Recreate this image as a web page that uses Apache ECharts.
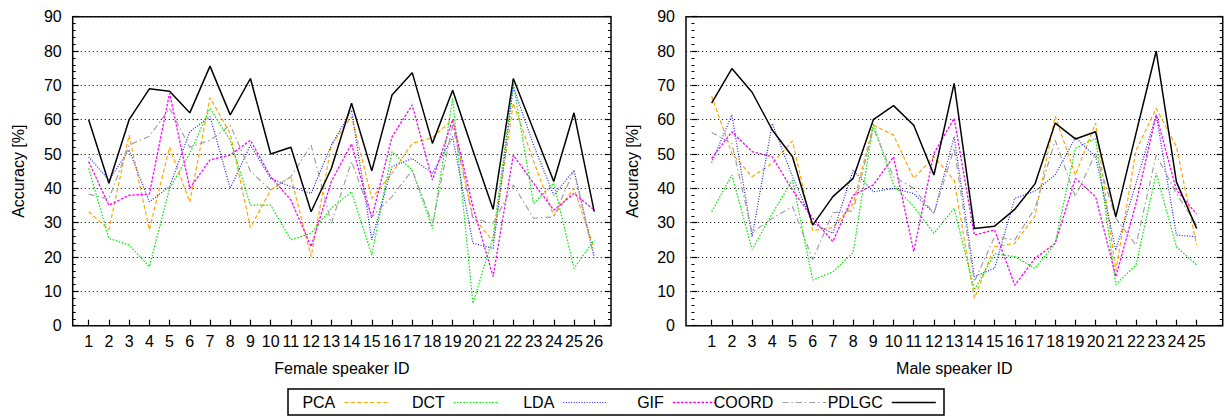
<!DOCTYPE html>
<html>
<head>
<meta charset="utf-8">
<script src="https://cdn.jsdelivr.net/npm/echarts@6/dist/echarts.min.js"></script>
<style>
html,body{margin:0;padding:0;background:#fff;}
#chart{width:1225px;height:416px;}
</style>
</head>
<body>
<div id="chart"></div>
<script>
// ---- Data ----
const femaleIds = [1,2,3,4,5,6,7,8,9,10,11,12,13,14,15,16,17,18,19,20,21,22,23,24,25,26];
const maleIds = [1,2,3,4,5,6,7,8,9,10,11,12,13,14,15,16,17,18,19,20,21,22,23,24,25];
const seriesNames = ['PCA','DCT','LDA','GIF','COORD','PDLGC'];
const yTicks = [0,10,20,30,40,50,60,70,80,90];

const femalePCA   = [33.2,28,55.5,27.9,52,36,66.4,56,28.6,39.5,43.4,20.1,52.6,60.9,37.1,44.4,53.1,54.8,60,31.7,24.6,64.8,48,32,40,22.5];
const femaleDCT   = [45.8,25.4,23.5,17.2,40,50.2,63.3,54,35.1,35.1,25,26.9,34.2,39,20.6,50.7,45.3,28.3,66.2,6.5,25.9,70.6,35.6,41.5,16.7,25];
const femaleLDA   = [49.2,42.4,51.2,36.1,40.5,56.5,60.9,40,52.6,42.9,40.5,38.5,52.6,62.8,25,46.3,48.7,44.4,55,24,22.5,69.6,52.6,38,45.3,20.1];
const femaleGIF   = [47.8,35.1,38,38.3,67.7,40,48.3,49.7,54,43.4,36.6,23,42,53,31.3,55,64.3,42.4,60,34.7,14.3,49.7,41.5,33.7,38.5,33.7];
const femaleCOORD = [38.3,36.9,52.6,55.2,63.3,52,54,58.4,45,39.5,43.4,52.6,29.8,47.8,31.7,37.6,45.3,29.8,58.4,31.3,29.8,41,31.3,31.7,45.3,19.6];
const femalePDLGC = [60,41.5,60,69,68.3,62,75.6,61.4,72,50,52,33.2,45.8,64.8,45.1,67.2,73.7,53.1,68.6,51,33.9,72,57,42,62,33.2];

const malePCA   = [66.9,50.2,43.4,47.3,53.8,27.7,28.6,35.5,58.4,55.5,42.9,49.2,42.4,8,23,24,32,61,43.9,59,16,51,63.3,52.1,23.5];
const maleDCT   = [33.2,43.9,22.2,32.7,42.4,13.3,15.7,21.3,58.9,41,34.7,26.9,34.2,10.4,21,20.1,16.7,24,51.7,54.6,12,17.7,44.4,23,17.7];
const maleLDA   = [47.5,61.4,25.9,58.9,43.4,29.8,26.9,45.3,39,40,38.5,32.7,55,14.3,16.7,37.1,39.2,43.9,54.8,49.2,22,41.5,61.4,26.4,25.9];
const maleGIF   = [48.7,56.5,50.7,49.2,39.5,31.3,24.5,38,41,49.2,21.6,50.2,60.4,26.4,27.9,11.8,19.6,24,42.9,37.6,14.3,35.6,61.4,39.5,32.5];
const maleCOORD = [56.3,53.1,27.1,31.3,34.7,19.3,32.9,33.5,57.5,43.4,40,32.7,51.7,12.8,25.9,25,34.2,54,37.6,50.2,31.3,23.5,49.7,38.5,29.3];
const malePDLGC = [64.8,74.9,68,57,49.2,29.3,37.6,42.9,60,64.1,58.4,43.9,70.6,28.3,29,33.9,41.3,59,54.4,56.5,31.7,56,80,41.9,28.3];

// ---- Styles ----
const FONT = "'Liberation Sans', Arial, Helvetica, sans-serif";
const lineStyles = {
  PCA:   {color:'#ffa500', width:1.2, type:[4,2.5]},
  DCT:   {color:'#00ee00', width:1.2, type:[1.6,1.6]},
  LDA:   {color:'#2020ff', width:1.2, type:[1,1.6]},
  GIF:   {color:'#ff00ff', width:1.3, type:[2.5,1.6]},
  COORD: {color:'#a0a0a0', width:1.2, type:[6,3,1.5,3]},
  PDLGC: {color:'#000000', width:1.5, type:'solid'}
};
const femaleData = {PCA:femalePCA, DCT:femaleDCT, LDA:femaleLDA, GIF:femaleGIF, COORD:femaleCOORD, PDLGC:femalePDLGC};
const maleData = {PCA:malePCA, DCT:maleDCT, LDA:maleLDA, GIF:maleGIF, COORD:maleCOORD, PDLGC:malePDLGC};

function pairs(ids, vals){ return ids.map((id,i)=>[id, vals[i]]); }

function xAxisFor(gridIndex, ids, min, max, name){
  return {
    type:'value', gridIndex, min, max,
    name, nameLocation:'middle', nameGap:35,
    nameTextStyle:{fontFamily:FONT, fontSize:16, color:'#000'},
    axisLine:{show:false},
    axisTick:{show:true, inside:true, length:6, customValues:ids, lineStyle:{color:'#000', width:1.2}},
    axisLabel:{show:true, customValues:ids, margin:8, fontFamily:FONT, fontSize:16, color:'#000', hideOverlap:false},
    splitLine:{show:false}, minorTick:{show:false}
  };
}
function yAxisFor(gridIndex, showLabel){
  return {
    type:'value', gridIndex, min:0, max:90, interval:10,
    position: showLabel ? 'left' : 'right',
    name: showLabel ? 'Accuracy [%]' : '',
    nameLocation:'middle', nameGap:46, nameRotate:90,
    nameTextStyle:{fontFamily:FONT, fontSize:16, color:'#000'},
    axisLine:{show:false},
    axisTick:{show:true, inside:true, length:6, lineStyle:{color:'#000', width:1.2}},
    minorTick:{show:true, splitNumber:5, length:3, lineStyle:{color:'#000', width:1}},
    axisLabel:{show:showLabel, margin:11, fontFamily:FONT, fontSize:16, color:'#000'},
    splitLine:{show:showLabel, lineStyle:{color:'#222', width:1, type:[1.2,2.8]}}
  };
}

const series = [];
seriesNames.forEach(n=>{
  series.push({name:n, type:'line', xAxisIndex:0, yAxisIndex:0, data:pairs(femaleIds, femaleData[n]),
    symbol:'none', lineStyle:lineStyles[n], itemStyle:{color:lineStyles[n].color}, animation:false, silent:true, z: n==='PDLGC'?5:3});
});
seriesNames.forEach(n=>{
  series.push({name:n, type:'line', xAxisIndex:1, yAxisIndex:2, data:pairs(maleIds, maleData[n]),
    symbol:'none', lineStyle:lineStyles[n], itemStyle:{color:lineStyles[n].color}, animation:false, silent:true, z: n==='PDLGC'?5:3});
});

// ---- Key box (gnuplot style: label, then line sample) ----
const keyBox = {x:288, y:389, w:656, h:26};
const keyFirstSample = 344.3, keyPitch = 109.5, keySampleLen = 44, keyTextGap = 9;
const graphics = [
  {type:'rect', shape:{x:keyBox.x, y:keyBox.y, width:keyBox.w, height:keyBox.h}, style:{fill:'none', stroke:'#000', lineWidth:1.5}, silent:true}
];
const keyY = keyBox.y + keyBox.h/2 + 0.5;
seriesNames.forEach((n,i)=>{
  const sx = keyFirstSample + i*keyPitch;
  const ls = lineStyles[n];
  graphics.push({type:'text', x:sx - keyTextGap, y:keyY, silent:true,
    style:{text:n, font:"16px " + FONT, fill:'#000', align:'right', verticalAlign:'middle'}});
  graphics.push({type:'line', silent:true, shape:{x1:sx, y1:keyY, x2:sx+keySampleLen, y2:keyY},
    style:{stroke:ls.color, lineWidth:ls.width, lineDash: Array.isArray(ls.type) ? ls.type : null}});
});

const chart = echarts.init(document.getElementById('chart'), null, {renderer:'svg'});
chart.setOption({
  animation:false,
  backgroundColor:'#fff',
  textStyle:{fontFamily:FONT},
  grid:[
    {left:72.7, top:16.7, width:538.3, height:309, show:true, borderColor:'#000', borderWidth:1.5, backgroundColor:'transparent', containLabel:false, outerBoundsMode:'none'},
    {left:686, top:16.7, width:536.7, height:309, show:true, borderColor:'#000', borderWidth:1.5, backgroundColor:'transparent', containLabel:false, outerBoundsMode:'none'}
  ],
  xAxis:[
    xAxisFor(0, femaleIds, 0.21, 26.83, 'Female speaker ID'),
    xAxisFor(1, maleIds, -0.27, 26.29, 'Male speaker ID')
  ],
  yAxis:[
    yAxisFor(0, true), yAxisFor(0, false),
    yAxisFor(1, true), yAxisFor(1, false)
  ],
  graphic: graphics,
  series
});
</script>
</body>
</html>
